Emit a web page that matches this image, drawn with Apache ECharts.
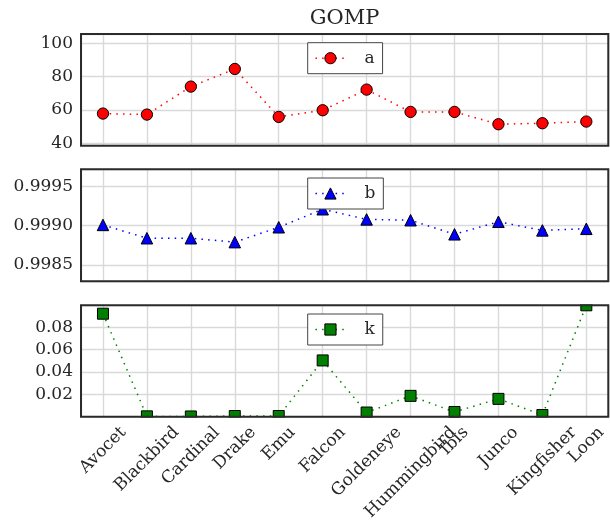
<!DOCTYPE html>
<html>
<head>
<meta charset="utf-8">
<script src="https://cdn.jsdelivr.net/npm/echarts@6/dist/echarts.min.js"></script>
<style>
  html, body { margin: 0; padding: 0; background: #ffffff; }
  #chart { width: 610px; height: 521px; }
</style>
</head>
<body>
<div id="chart"></div>
<script>
// Bird categories shared by the three stacked panels
const categories = ['Avocet', 'Blackbird', 'Cardinal', 'Drake', 'Emu', 'Falcon',
  'Goldeneye', 'Hummingbird', 'Ibis', 'Junco', 'Kingfisher', 'Loon'];

// Panel values
const seriesA = [57.8, 57.2, 74.0, 84.6, 55.8, 59.8, 72.2, 58.8, 58.8, 51.4, 52.0, 53.0];
const seriesB = [0.99901, 0.99884, 0.99884, 0.99879, 0.99898, 0.99921,
  0.99908, 0.99907, 0.99889, 0.99905, 0.99894, 0.99896];
const seriesK = [0.0920, 0.0004, 0.0003, 0.0007, 0.0007, 0.0503,
  0.0038, 0.0187, 0.0043, 0.0160, 0.0016, 0.0995];

// Value ranges and tick steps of each panel's y axis
const rangeA = [38.5, 105.6];
const rangeB = [0.99829, 0.99972];
const rangeK = [0, 0.0995];
const stepA = 20, stepB = 0.0005, stepK = 0.02;
const digitsA = 0, digitsB = 4, digitsK = 2;

const FONT = 'DejaVu Serif';
const INK = '#262626';
const GRID_LINE = '#d9d9d9';
const FRAME = '#2b2b2b';
const PLOT_LEFT = 81;
const PLOT_WIDTH = 527.3;
const panels = [
  { top: 34, height: 111.7 },
  { top: 169.3, height: 112 },
  { top: 305.3, height: 111.5 }
];
const DOTS = [1.5, 5.2];
const LABEL_FONT = '17px "' + FONT + '"';

// Text widths, used to hang each rotated category label centred under its tick
const measure = document.createElement('canvas').getContext('2d');
measure.font = LABEL_FONT;
const labelWidths = categories.map(function (name) { return measure.measureText(name).width; });

measure.font = '21px "' + FONT + '"';
const titleWidth = measure.measureText('GOMP').width;

function grid(p) {
  return {
    left: PLOT_LEFT, width: PLOT_WIDTH, top: p.top, height: p.height,
    show: true, borderColor: FRAME, borderWidth: 2,
    backgroundColor: 'transparent', containLabel: false,
    outerBoundsMode: 'none', z: 4
  };
}

function yAxis(gridIndex, range, step, digits) {
  return {
    type: 'value', gridIndex: gridIndex,
    min: range[0], max: range[1],
    minInterval: step, maxInterval: step,
    axisLine: { show: false },
    axisTick: { show: false },
    axisLabel: {
      showMinLabel: false, showMaxLabel: false,
      margin: 8, color: INK, fontFamily: FONT, fontSize: 17,
      formatter: function (v) { return v.toFixed(digits); }
    },
    splitLine: { show: true, lineStyle: { color: GRID_LINE, width: 1.4 } }
  };
}

function categoryAxis(gridIndex) {
  return {
    type: 'category', gridIndex: gridIndex, position: 'bottom',
    data: categories, boundaryGap: true, show: false,
    axisLine: { show: false },
    axisTick: { show: false },
    axisLabel: { show: false },
    splitLine: { show: false }
  };
}

// Vertical grid lines through every category centre
function gridlineAxis(gridIndex) {
  return {
    type: 'value', gridIndex: gridIndex, position: 'top',
    min: -0.5, max: categories.length - 0.5,
    minInterval: 1, maxInterval: 1,
    axisLine: { show: false },
    axisTick: { show: false },
    axisLabel: { show: false },
    splitLine: { show: true, lineStyle: { color: GRID_LINE, width: 1.4 } }
  };
}

function lineSeries(name, gridIndex, data, color, symbol, size) {
  return {
    type: 'line', name: name,
    xAxisIndex: gridIndex * 2, yAxisIndex: gridIndex,
    data: data,
    symbol: symbol, symbolSize: size, showAllSymbol: true,
    clip: false,
    lineStyle: { color: color, width: 1.5, type: DOTS },
    itemStyle: { color: color, borderColor: '#000000', borderWidth: 1 },
    emphasis: { disabled: true },
    z: 2
  };
}

function legend(name, p, color) {
  return {
    data: [name],
    left: 307.7, top: p.top + 8.7,
    orient: 'horizontal',
    padding: [7, 8, 7, 7],
    itemWidth: 30, itemHeight: 14,
    backgroundColor: '#ffffff',
    borderColor: '#444444', borderWidth: 1, borderRadius: 0,
    selectedMode: false, z: 5,
    itemStyle: { borderColor: '#000000', borderWidth: 1 },
    lineStyle: { color: color, width: 1.5, type: DOTS },
    textStyle: { fontFamily: FONT, fontSize: 17, color: INK, padding: [0, 0, 0, 14] }
  };
}

// Category tick labels of the lowest panel, rotated 45 degrees and
// centred below each category position on that panel's axes.
const lastGrid = panels.length - 1;
const tickLabels = {
  type: 'custom', name: 'tick labels',
  xAxisIndex: lastGrid * 2, yAxisIndex: lastGrid,
  data: categories.map(function (name, i) { return [i, rangeK[0]]; }),
  encode: { x: 0, y: 1 },
  clip: false, silent: true, z: 6,
  renderItem: function (params, api) {
    const i = params.dataIndex;
    const base = api.coord([api.value(0), api.value(1)]);
    return {
      type: 'text',
      x: base[0],
      y: base[1] + 13 + Math.SQRT1_2 * labelWidths[i] / 2,
      rotation: Math.PI / 4,
      style: {
        text: categories[i], font: LABEL_FONT, fill: INK,
        align: 'center', verticalAlign: 'middle'
      }
    };
  }
};

const xAxes = [];
panels.forEach(function (p, i) {
  xAxes.push(categoryAxis(i));
  xAxes.push(gridlineAxis(i));
});

const midBottom = panels[1].top + panels[1].height;
const lowBottom = panels[2].top + panels[2].height;

const option = {
  animation: false,
  backgroundColor: '#ffffff',
  textStyle: { fontFamily: FONT },
  title: {
    text: 'GOMP',
    left: PLOT_LEFT + PLOT_WIDTH / 2 - titleWidth / 2,
    top: 8, padding: 0,
    textStyle: { fontFamily: FONT, fontSize: 21, fontWeight: 'normal', color: INK }
  },
  grid: panels.map(grid),
  xAxis: xAxes,
  yAxis: [
    yAxis(0, rangeA, stepA, digitsA),
    yAxis(1, rangeB, stepB, digitsB),
    yAxis(2, rangeK, stepK, digitsK)
  ],
  legend: [
    legend('a', panels[0], '#ff0000'),
    legend('b', panels[1], '#0000ff'),
    legend('k', panels[2], '#008000')
  ],
  // markers are clipped at the frame of the lowest panel
  graphic: [
    { type: 'rect', silent: true, z: 3,
      shape: { x: 60, y: midBottom + 2, width: 560, height: panels[2].top - midBottom - 3 },
      style: { fill: '#ffffff' } },
    { type: 'rect', silent: true, z: 3,
      shape: { x: 60, y: lowBottom + 1, width: 560, height: 7 },
      style: { fill: '#ffffff' } }
  ],
  series: [
    lineSeries('a', 0, seriesA, '#ff0000', 'circle', 11.3),
    lineSeries('b', 1, seriesB, '#0000ff', 'triangle', 11.5),
    lineSeries('k', 2, seriesK, '#008000', 'rect', 11),
    tickLabels
  ]
};

const chart = echarts.init(document.getElementById('chart'), null, { renderer: 'canvas' });
chart.setOption(option);
</script>
</body>
</html>
